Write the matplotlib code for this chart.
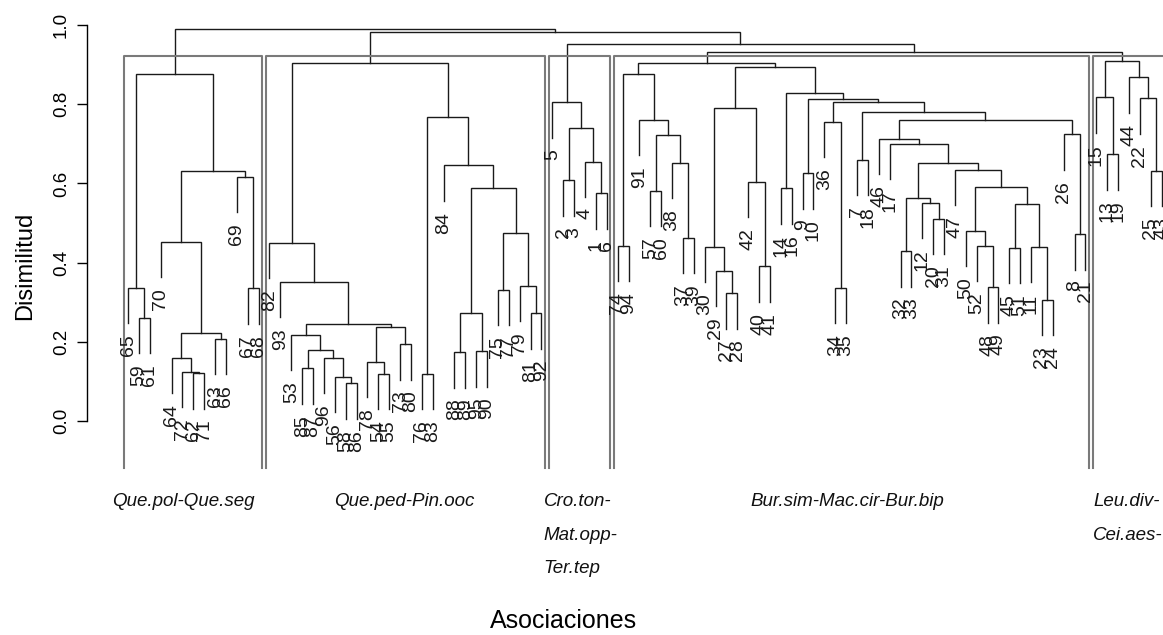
import matplotlib
matplotlib.use("Agg")
import matplotlib.pyplot as plt
import numpy as np

plt.rcParams['font.family'] = ['Liberation Sans', 'DejaVu Sans']

# leaf order along the x axis (observation numbers)
leaf_order = [65, 59, 61, 70, 64, 72, 62, 71, 63, 66, 69, 67, 68,
              82, 93, 53, 85, 87, 96, 56, 58, 86, 78, 54, 55, 73, 80, 76, 83,
              84, 88, 89, 95, 90, 75, 77, 79, 81, 92,
              5, 2, 3, 4, 1, 6,
              74, 94, 91, 57, 60, 38, 37, 39, 30, 29, 27, 28, 42, 40, 41, 14,
              16, 9, 10, 36, 34, 35, 7, 18, 46, 17, 32, 33, 12, 20, 31, 47, 50,
              52, 48, 49, 45, 51, 11, 23, 24, 26, 8, 21,
              15, 13, 19, 44, 22, 25, 43]

# hclust-style merges: negative = observation, positive = earlier merge row (1-based)
merges_g1 = [(-59, -61, 0.260), (-65, 1, 0.336), (-62, -71, 0.121), (-72, 3, 0.124),
             (-64, 4, 0.160), (-63, -66, 0.207), (5, 6, 0.222), (-70, 7, 0.453),
             (-67, -68, 0.335), (-69, 9, 0.617), (8, 10, 0.632), (2, 11, 0.876)]
merges_g2 = [(-85, -87, 0.133), (-58, -86, 0.095), (-56, 14, 0.112), (-96, 15, 0.160),
             (13, 16, 0.179), (-53, 17, 0.217), (-54, -55, 0.119), (-78, 19, 0.150),
             (-73, -80, 0.194), (20, 21, 0.237), (18, 22, 0.245), (-93, 23, 0.352),
             (-82, 24, 0.450), (-76, -83, 0.119), (-88, -89, 0.174), (-95, -90, 0.176),
             (27, 28, 0.272), (-75, -77, 0.331), (-81, -92, 0.272), (-79, 31, 0.341),
             (30, 32, 0.474), (29, 33, 0.588), (-84, 34, 0.646), (26, 35, 0.767),
             (25, 36, 0.903)]
merges_g3 = [(-2, -3, 0.608), (-1, -6, 0.575), (-4, 39, 0.655), (38, 40, 0.741),
             (-5, 41, 0.805)]
merges_g4 = [(-74, -94, 0.442), (-57, -60, 0.581), (-37, -39, 0.462), (-38, 45, 0.652),
             (44, 46, 0.722), (-91, 47, 0.760), (43, 48, 0.875), (-27, -28, 0.323),
             (-29, 50, 0.379), (-30, 51, 0.440), (-40, -41, 0.391), (-42, 53, 0.604),
             (52, 54, 0.791), (-14, -16, 0.588), (-9, -10, 0.626), (-34, -35, 0.336),
             (-36, 58, 0.756), (-7, -18, 0.659), (-32, -33, 0.429), (-20, -31, 0.510),
             (-12, 62, 0.551), (61, 63, 0.563), (-48, -49, 0.338), (-52, 65, 0.442),
             (-50, 66, 0.480), (-45, -51, 0.437), (-23, -24, 0.306), (-11, 69, 0.440),
             (68, 70, 0.548), (67, 71, 0.592), (-47, 72, 0.634), (64, 73, 0.652),
             (-17, 74, 0.700), (-46, 75, 0.712), (-8, -21, 0.472), (-26, 77, 0.724),
             (76, 78, 0.760), (60, 79, 0.781), (59, 80, 0.806), (57, 81, 0.814),
             (56, 82, 0.829), (55, 83, 0.895), (49, 84, 0.905)]
merges_g5 = [(-13, -19, 0.674), (-15, 86, 0.817), (-25, -43, 0.632), (-22, 88, 0.815),
             (-44, 89, 0.868), (87, 90, 0.909)]
merges_top = [(85, 91, 0.932), (42, 92, 0.951), (37, 93, 0.982), (12, 94, 0.990)]

group_names = [['Que.pol-Que.seg'], ['Que.ped-Pin.ooc'],
               ['Cro.ton-', 'Mat.opp-', 'Ter.tep'],
               ['Bur.sim-Mac.cir-Bur.bip'], ['Leu.div-', 'Cei.aes-']]
group_sizes = [13, 26, 6, 44, 7]

merges = merges_g1 + merges_g2 + merges_g3 + merges_g4 + merges_g5 + merges_top
heights = np.array([m[2] for m in merges])

fig = plt.figure(figsize=(11.63, 6.35), dpi=100)
ax = fig.add_axes([86.7 / 1163, 167 / 635, 1116.3 / 1163, 455.7 / 635])
n = len(leaf_order)
ax.set_xlim(1 - 0.04 * (n - 1), n + 0.04 * (n - 1))
ax.set_ylim(-0.1187, 1.032)

pos = {lab: i + 1 for i, lab in enumerate(leaf_order)}
hang = 0.1 * (heights.max() - heights.min())
node_x, node_h = {}, {}
line_kw = dict(color='#1a1a1a', lw=1.0, solid_joinstyle='miter')

for row, (a, b, h) in enumerate(merges, start=1):
    ends = []
    for c in (a, b):
        if c < 0:
            x, y0 = pos[-c], h - hang
            ax.text(x, y0 - 0.028, str(-c), rotation=90, ha='center', va='top',
                    fontsize=14, color='#1a1a1a')
        else:
            x, y0 = node_x[c], node_h[c]
        ends.append((x, y0))
    (xa, ya), (xb, yb) = ends
    ax.plot([xa, xa, xb, xb], [ya, h, h, yb], **line_kw)
    node_x[row] = (xa + xb) / 2
    node_h[row] = h

# cluster rectangles, cut between the 4th and 5th highest merges
top_sorted = np.sort(heights)[::-1]
box_top = (top_sorted[3] + top_sorted[4]) / 2
ybot = ax.get_ylim()[0]
start = 0
label_x = [-0.5, 19.9, 39.2, 58.2, 89.7]
for size, names, lx in zip(group_sizes, group_names, label_x):
    left, right = start + 0.66, start + size + 0.33
    ax.plot([left, left, right, right], [ybot, box_top, box_top, ybot],
            color='#7a7a7a', lw=1.5, clip_on=False)
    for k, name in enumerate(names):
        ax.text(lx, -0.2045 - k * 0.0845, name, style='italic', fontsize=13.5,
                ha='left', va='center', color='#111111', clip_on=False)
    start += size

for side in ('top', 'right', 'bottom'):
    ax.spines[side].set_visible(False)
ax.spines['left'].set_bounds(0, 1)
ax.spines['left'].set_linewidth(1.0)
ax.set_xticks([])
ax.set_yticks(np.arange(0, 1.01, 0.2))
ax.set_yticklabels(['0.0', '0.2', '0.4', '0.6', '0.8', '1.0'])
ax.tick_params(axis='y', length=7, width=1.0, labelsize=13.5, pad=5)
for t in ax.get_yticklabels():
    t.set_rotation(90)
    t.set_va('center')

fig.text(25 / 1163, 1 - 266 / 635, 'Disimilitud', rotation=90, fontsize=17,
         ha='center', va='center')
fig.text(564 / 1163, 1 - 621 / 635, 'Asociaciones', fontsize=18,
         ha='center', va='center')

fig.savefig('out.png', dpi=100)
